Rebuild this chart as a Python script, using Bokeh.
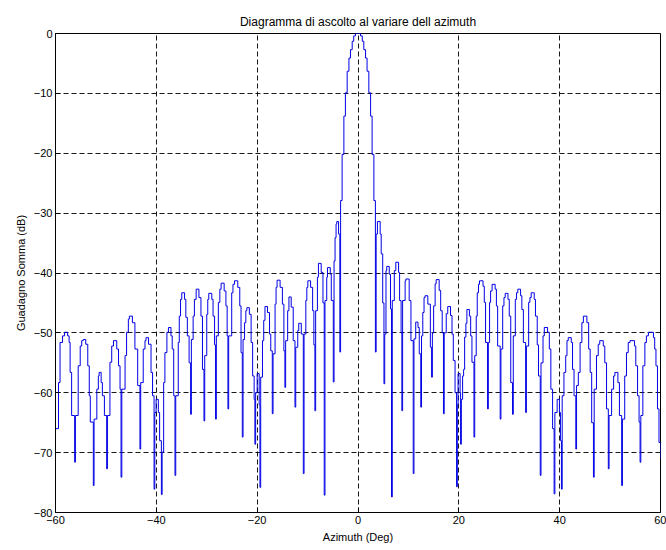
from bokeh.plotting import figure
from bokeh.models import FixedTicker, Range1d
from bokeh.embed import file_html
from bokeh.resources import INLINE

# Sum-channel antenna gain versus azimuth, stair-step samples (deg, dB)
# Left sidelobes
az_left = [
    -60.0, -59.4, -59.1, -58.6, -58.2, -57.6, -57.3, -57.1, -56.8, -56.2,
    -56.05, -55.5, -55.1, -54.8, -54.5, -54.0, -53.6, -53.3, -53.1, -52.5,
    -52.35, -51.8, -51.5, -51.35, -50.95, -50.7, -50.3, -49.85,
    -49.7, -49.2, -48.85, -48.5, -47.85, -47.5, -47.2, -47.0,
    -46.85, -46.2, -45.9, -45.55, -45.35, -44.75, -44.25, -43.7, -43.25,
    -43.1, -42.6, -42.25, -42.05, -41.55, -41.05, -40.75, -40.45,
    -40.3, -40.05, -39.6, -39.35, -39.0,
    -38.85, -38.55, -38.3, -37.9, -37.6, -37.1, -36.85, -36.55, -36.3,
    -36.15, -35.65, -35.45, -35.2, -34.95, -34.4, -34.15, -33.85, -33.5, -33.2,
    -33.05, -32.7, -32.45, -32.1, -31.55, -31.15, -30.85, -30.55,
    -30.4, -30.0, -29.8, -29.6, -29.0, -28.75, -28.45, -28.25,
    -28.1, -27.7, -27.4, -27.15, -26.55, -26.2, -25.95, -25.8,
    -25.65, -25.05, -24.8, -24.5, -23.85, -23.45, -23.2, -22.95,
    -22.8, -22.5, -22.25, -22.05, -21.55, -21.2, -20.9, -20.6, -20.45,
    -20.3, -20.0, -19.6, -19.45,
    -19.3, -18.95, -18.7, -18.45, -17.95, -17.55, -17.3, -17.0,
    -16.85, -16.45, -16.25, -16.05, -15.45, -15.0, -14.7, -14.5,
    -14.35, -13.95, -13.7, -13.25, -12.85, -12.5,
    -12.35, -11.95, -11.75, -11.25, -10.85,
    -10.7, -10.35, -10.15, -9.95, -9.4, -9.0, -8.75, -8.55,
    -8.4, -8.05, -7.85, -7.3, -6.95, -6.7,
    -6.55, -6.2, -6.05, -5.5, -5.3, -4.9,
    -4.75, -4.55, -4.35, -4.2, -3.85, -3.6,
]
gain_left = [
    -66.0, -58.3, -51.6, -50.5, -49.9, -50.5, -51.6, -56.6, -63.8, -71.6,
    -63.8, -55.5, -52.2, -51.3, -51.1, -51.9, -55.5, -60.5, -64.9, -75.5,
    -64.4, -59.4, -57.2, -56.6, -58.3, -60.5, -63.8, -72.7,
    -63.8, -54.9, -52.2, -51.3, -52.7, -55.5, -59.4, -74.1,
    -59.4, -53.8, -49.9, -47.7, -47.2, -48.3, -52.7, -58.8, -69.4,
    -58.3, -52.7, -51.3, -50.8, -51.9, -56.6, -60.5, -76.1,
    -63.3, -61.1, -63.3, -68.0, -77.0,
    -69.9, -58.3, -53.3, -49.9, -49.1, -50.5, -52.7, -60.5, -73.8,
    -60.5, -51.6, -47.2, -44.4, -43.3, -44.4, -47.4, -50.5, -55.0, -63.6,
    -51.1, -47.2, -44.4, -42.7, -44.1, -47.2, -56.1, -64.7,
    -53.8, -46.9, -44.4, -43.4, -44.4, -47.2, -52.0, -64.4,
    -50.5, -44.9, -42.7, -41.7, -43.0, -45.5, -50.5, -62.7,
    -50.5, -43.3, -41.9, -41.3, -42.4, -45.5, -53.3, -67.4,
    -51.1, -48.3, -46.3, -45.8, -46.9, -51.6, -57.2, -61.1, -68.6,
    -60.0, -56.8, -62.0, -75.8,
    -57.4, -51.3, -47.9, -45.6, -46.6, -50.2, -53.0, -63.5,
    -53.5, -45.2, -42.4, -41.2, -42.4, -45.2, -53.0, -59.1,
    -51.3, -46.3, -44.0, -45.7, -51.3, -62.4,
    -52.4, -49.6, -48.4, -50.2, -73.5,
    -50.2, -44.6, -42.4, -41.3, -42.4, -46.3, -52.0, -63.0,
    -46.3, -40.7, -38.4, -39.9, -45.0, -77.1,
    -44.6, -40.7, -39.1, -40.2, -44.6, -58.2,
    -38.0, -34.1, -31.8, -31.4, -33.5, -53.2,
]

# Main beam
az_main = [-3.45, -3.15, -2.8, -2.5, -2.15, -1.8, -1.5, -1.15, -0.85, -0.5,
           0.5, 0.85, 1.15, 1.5, 1.8, 2.15, 2.5, 2.8, 3.15]
gain_main = [-27.9, -20.2, -13.8, -9.9, -6.3, -4.1, -2.7, -1.3, -0.4, 0.0,
             -0.4, -1.3, -2.7, -4.1, -6.3, -9.9, -13.8, -20.2, -27.9]

# Right sidelobes
az_right = [
    3.45, 3.6, 3.85, 4.4, 4.6, 4.9, 5.15,
    5.3, 5.55, 5.7, 6.2, 6.45, 6.65,
    6.8, 7.2, 7.5, 8.05, 8.25, 8.55, 8.7,
    8.85, 9.35, 9.5, 10.15, 10.5, 10.95,
    11.1, 11.45, 11.9, 12.15, 12.45,
    12.6, 12.85, 13.1, 13.3, 13.85, 14.35, 14.6,
    14.75, 15.0, 15.3, 15.5, 16.1, 16.4, 16.7, 16.95,
    17.1, 17.5, 17.8, 18.35, 18.65, 18.9, 19.25, 19.55,
    19.7, 19.85, 20.25, 20.35,
    20.5, 20.75, 20.95, 21.15, 21.4, 21.6, 22.1, 22.35, 22.6, 23.0,
    23.15, 23.45, 23.65, 23.9, 24.1, 24.8, 25.05, 25.3, 25.7,
    25.85, 26.1, 26.3, 26.6, 27.2, 27.45, 27.7, 28.2,
    28.35, 28.7, 28.95, 29.2, 29.75, 30.0, 30.3, 30.65,
    30.8, 31.2, 31.45, 31.7, 32.25, 32.5, 32.8, 33.25,
    33.4, 33.85, 34.1, 34.35, 34.95, 35.2, 35.55, 35.8, 36.15,
    36.3, 36.7, 36.95, 37.6, 37.95, 38.25, 38.6, 38.9,
    39.05, 39.5, 39.95, 40.15, 40.35,
    40.5, 40.85, 41.2, 41.45, 41.7, 42.3, 42.55, 42.85, 43.2,
    43.35, 43.7, 44.05, 44.4, 44.7, 45.4, 45.75, 46.05, 46.35, 46.7,
    46.85, 47.3, 47.65, 47.95, 48.65, 48.95, 49.3, 49.65,
    49.8, 50.3, 50.7, 50.95, 51.55, 51.85, 52.3,
    52.45, 52.9, 53.25, 53.6, 53.95, 54.85, 55.1, 55.45, 55.75, 55.95,
    56.1, 56.5, 56.9, 57.2, 57.6, 58.6, 58.85, 59.1, 59.4, 59.7, 60.0,
]
gain_right = [
    -53.2, -33.5, -31.4, -33.5, -36.8, -45.0, -58.5,
    -50.2, -39.6, -38.9, -40.2, -46.0, -77.4,
    -44.6, -39.6, -38.2, -39.9, -44.6, -50.0, -63.0,
    -44.6, -41.3, -41.0, -44.6, -51.3, -73.5,
    -51.0, -48.2, -49.1, -53.5, -62.4,
    -50.5, -46.6, -44.1, -43.8, -45.2, -52.4, -57.4,
    -50.0, -45.5, -41.8, -41.1, -42.9, -46.3, -50.0, -63.5,
    -50.0, -46.8, -45.6, -47.1, -50.2, -54.6, -60.0, -75.7,
    -62.0, -56.8, -60.0, -68.6,
    -61.1, -57.2, -56.1, -50.7, -48.4, -46.1, -47.2, -50.5, -54.9, -67.4,
    -53.8, -47.2, -43.3, -41.9, -41.3, -42.2, -44.9, -51.6, -62.7,
    -51.6, -44.9, -43.0, -41.9, -42.7, -45.5, -52.2, -64.4,
    -52.7, -45.5, -44.1, -43.4, -44.4, -47.2, -58.3, -63.6,
    -50.5, -44.4, -43.3, -42.7, -43.8, -46.1, -51.6, -63.3,
    -52.2, -44.9, -44.1, -43.3, -44.4, -47.2, -52.0, -57.2, -73.8,
    -55.0, -50.5, -49.1, -49.9, -52.7, -59.4, -66.0, -76.9,
    -63.3, -61.1, -63.3, -68.0, -76.1,
    -60.5, -56.6, -53.8, -51.3, -50.8, -51.6, -56.1, -60.5, -69.4,
    -58.8, -56.6, -51.6, -48.3, -47.2, -48.3, -52.7, -56.6, -65.0, -74.1,
    -59.4, -53.8, -51.9, -51.3, -52.2, -55.0, -62.7, -72.7,
    -63.8, -59.4, -57.2, -56.6, -58.3, -63.8, -75.5,
    -64.4, -57.2, -53.3, -51.6, -51.3, -52.2, -55.5, -60.5, -64.9, -71.6,
    -63.8, -55.5, -51.6, -50.5, -49.9, -50.8, -52.7, -55.5, -62.7, -68.3, -71.0,
]

x_ticks = [-60, -40, -20, 0, 20, 40, 60]
y_ticks = [-80, -70, -60, -50, -40, -30, -20, -10, 0]

azimuth = az_left + az_main + az_right
gain = gain_left + gain_main + gain_right

FONT = "Liberation Sans"

p = figure(
    width=666, height=550,
    x_range=Range1d(-60, 60), y_range=Range1d(-80, 0),
    output_backend="svg", toolbar_location=None,
    min_border_left=55, min_border_right=6,
    min_border_top=33, min_border_bottom=38,
    background_fill_color="white", border_fill_color="white",
    title="Diagramma di ascolto al variare dell azimuth",
)

p.title.align = "center"
p.title.text_font = FONT
p.title.text_font_size = "12px"
p.title.text_font_style = "normal"
p.title.text_color = "black"

p.step(azimuth, gain, mode="after", line_color="#0000e6", line_width=1)

p.outline_line_color = "black"
p.outline_line_width = 1

for axis, ticks, label in ((p.xaxis, x_ticks, "Azimuth (Deg)"),
                           (p.yaxis, y_ticks, "Guadagno Somma (dB)")):
    axis.ticker = FixedTicker(ticks=ticks)
    axis.axis_label = label
    axis.axis_label_text_font = FONT
    axis.axis_label_text_font_size = "11px"
    axis.axis_label_text_font_style = "normal"
    axis.axis_label_text_color = "black"
    axis.axis_label_standoff = 4
    axis.major_label_text_font = FONT
    axis.major_label_text_font_size = "11px"
    axis.major_label_text_color = "black"
    axis.major_label_standoff = 3
    axis.major_tick_in = 5
    axis.major_tick_out = 0
    axis.minor_tick_line_color = None
    axis.axis_line_color = "black"
    axis.major_tick_line_color = "black"

for grid in (p.xgrid, p.ygrid):
    grid.grid_line_color = "black"
    grid.grid_line_dash = "5 3"
    grid.grid_line_width = 1
    grid.grid_line_alpha = 0.9

p.xgrid.ticker = FixedTicker(ticks=x_ticks)
p.ygrid.ticker = FixedTicker(ticks=y_ticks)

open("out.html", "w").write(file_html(p, INLINE))
